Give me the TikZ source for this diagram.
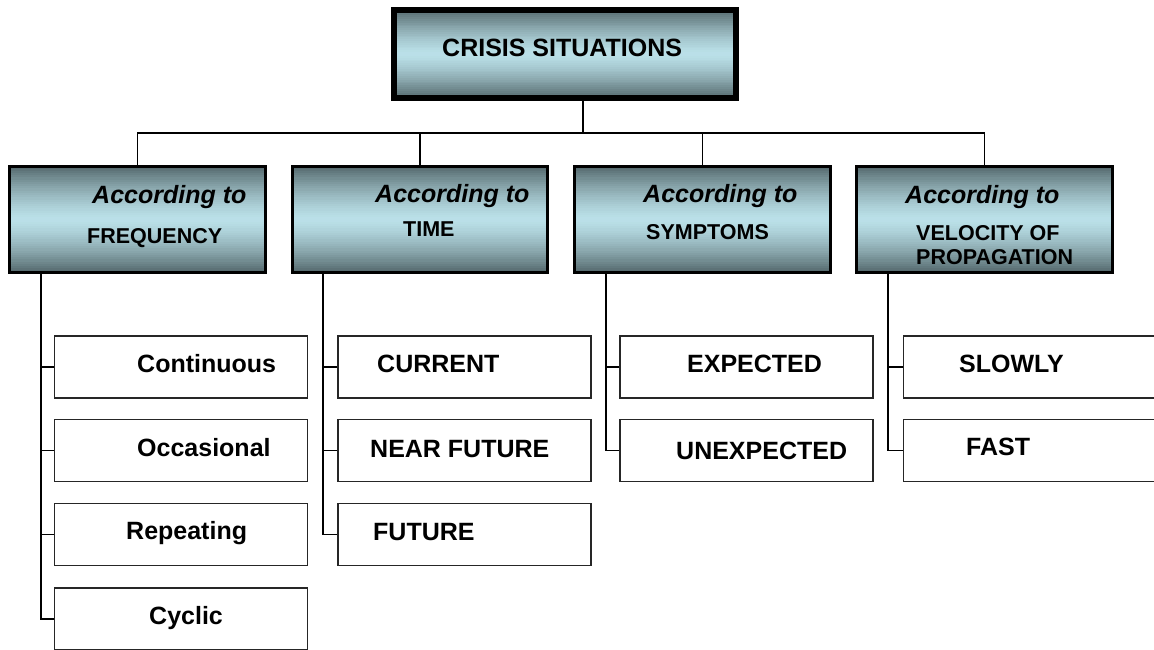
\documentclass[tikz,border=0pt]{standalone}
\usepackage{fontspec}
\setmainfont{Liberation Sans}
\usetikzlibrary{calc}
\definecolor{slate}{RGB}{84,104,108}
\definecolor{pale}{RGB}{186,224,232}
\tikzset{
  headbox/.style={inner sep=0pt, minimum width=342pt, minimum height=88pt},
  catbox/.style={inner sep=0pt, minimum width=255pt, minimum height=106pt},
  itembox/.style={draw=black!85, line width=1.3pt, inner sep=0pt, fill=white,
    minimum width=253pt, minimum height=62pt},
  link/.style={draw=black, line width=1.2pt},
  bigtxt/.style={anchor=base west, inner sep=0pt,
    font=\fontsize{25}{30}\selectfont\bfseries},
  ittxt/.style={anchor=base west, inner sep=0pt,
    font=\fontsize{25}{30}\selectfont\bfseries\itshape},
  cattxt/.style={anchor=base west, inner sep=0pt,
    font=\fontsize{21.5}{26}\selectfont\bfseries},
}
% vertical dark-light-dark gradient inside a node, then its frame
\newcommand\gradframe[2]{%
  \foreach \i in {0,...,47}{%
    \pgfmathsetmacro\p{100*pow(abs(2*(\i+0.5)/48-1),1.4)}%
    \fill[slate!\p!pale]
      ($(#1.north west)!{\i/48}!(#1.south west)$) rectangle
      ($(#1.north east)!{min(1,(\i+1.1)/48)}!(#1.south east)$);
  }%
  \draw[black, line width=#2] (#1.north west) rectangle (#1.south east);
}
\begin{document}
\begin{tikzpicture}[x=1pt, y=-1pt]
  \useasboundingbox (0,0) rectangle (1154,649);
  \clip (0,0) rectangle (1154,649);
  \fill[white] (0,0) rectangle (1154,649);

  % root and the four categories
  \node[headbox] (root) at (565,54) {};
  \node[catbox] (c1) at (137.5,219.5) {};
  \node[catbox] (c2) at (420,219.5) {};
  \node[catbox] (c3) at (702.5,219.5) {};
  \node[catbox] (c4) at (984.5,219.5) {};
  \gradframe{root}{6pt}
  \gradframe{c1}{3pt}
  \gradframe{c2}{3pt}
  \gradframe{c3}{3pt}
  \gradframe{c4}{3pt}

  % leaves
  \node[itembox] (f1) at (181,367) {};
  \node[itembox] (f2) at (181,450.5) {};
  \node[itembox] (f3) at (181,534.5) {};
  \node[itembox] (f4) at (181,619) {};
  \node[itembox] (t1) at (464.5,367) {};
  \node[itembox] (t2) at (464.5,450.5) {};
  \node[itembox] (t3) at (464.5,534.5) {};
  \node[itembox] (s1) at (746.5,367) {};
  \node[itembox] (s2) at (746.5,450.5) {};
  \node[itembox] (v1) at (1030,367) {};
  \node[itembox] (v2) at (1030,450.5) {};

  % tree connectors
  \coordinate (hub) at (583,133);
  \draw[link] (root.south -| hub) -- (hub);
  \draw[link] (c1.north) |- (hub) -| (c4.north);
  \draw[link] (c2.north) -- (c2.north |- hub);
  \draw[link] (c3.north) -- (c3.north |- hub);

  % spines from each category to its leaves
  \coordinate (sp1) at (41,0);
  \coordinate (sp2) at (323,0);
  \coordinate (sp3) at (606,0);
  \coordinate (sp4) at (888,0);
  \draw[link] (c1.south -| sp1) |- (f4.west);
  \foreach \b in {f1,f2,f3} \draw[link] (\b.west) -- (\b.west -| sp1);
  \draw[link] (c2.south -| sp2) |- (t3.west);
  \foreach \b in {t1,t2} \draw[link] (\b.west) -- (\b.west -| sp2);
  \draw[link] (c3.south -| sp3) |- (s2.west);
  \draw[link] (s1.west) -- (s1.west -| sp3);
  \draw[link] (c4.south -| sp4) |- (v2.west);
  \draw[link] (v1.west) -- (v1.west -| sp4);

  % texts
  \node[bigtxt] (lroot) at (442,56) {CRISIS SITUATIONS};

  \node[ittxt] (a1) at (92,203) {According to};
  \node[cattxt] (n1) at (87,243) {FREQUENCY};
  \node[ittxt] (a2) at (375,202) {According to};
  \node[cattxt] (n2) at (403,236) {TIME};
  \node[ittxt] (a3) at (643,202) {According to};
  \node[cattxt] (n3) at (646,239) {SYMPTOMS};
  \node[ittxt] (a4) at (905,203) {According to};
  \node[cattxt] (n4) at (916,240) {VELOCITY OF};
  \node[cattxt] (n5) at (916,264) {PROPAGATION};

  \node[bigtxt] (lf1) at (137,372) {Continuous};
  \node[bigtxt] (lf2) at (137,456) {Occasional};
  \node[bigtxt] (lf3) at (126,539) {Repeating};
  \node[bigtxt] (lf4) at (149,624) {Cyclic};
  \node[bigtxt] (lt1) at (377,372) {CURRENT};
  \node[bigtxt] (lt2) at (370,457) {NEAR FUTURE};
  \node[bigtxt] (lt3) at (373,540) {FUTURE};
  \node[bigtxt] (ls1) at (687,372) {EXPECTED};
  \node[bigtxt] (ls2) at (676,459) {UNEXPECTED};
  \node[bigtxt] (lv1) at (959,372) {SLOWLY};
  \node[bigtxt] (lv2) at (966,455) {FAST};
\end{tikzpicture}
\end{document}
